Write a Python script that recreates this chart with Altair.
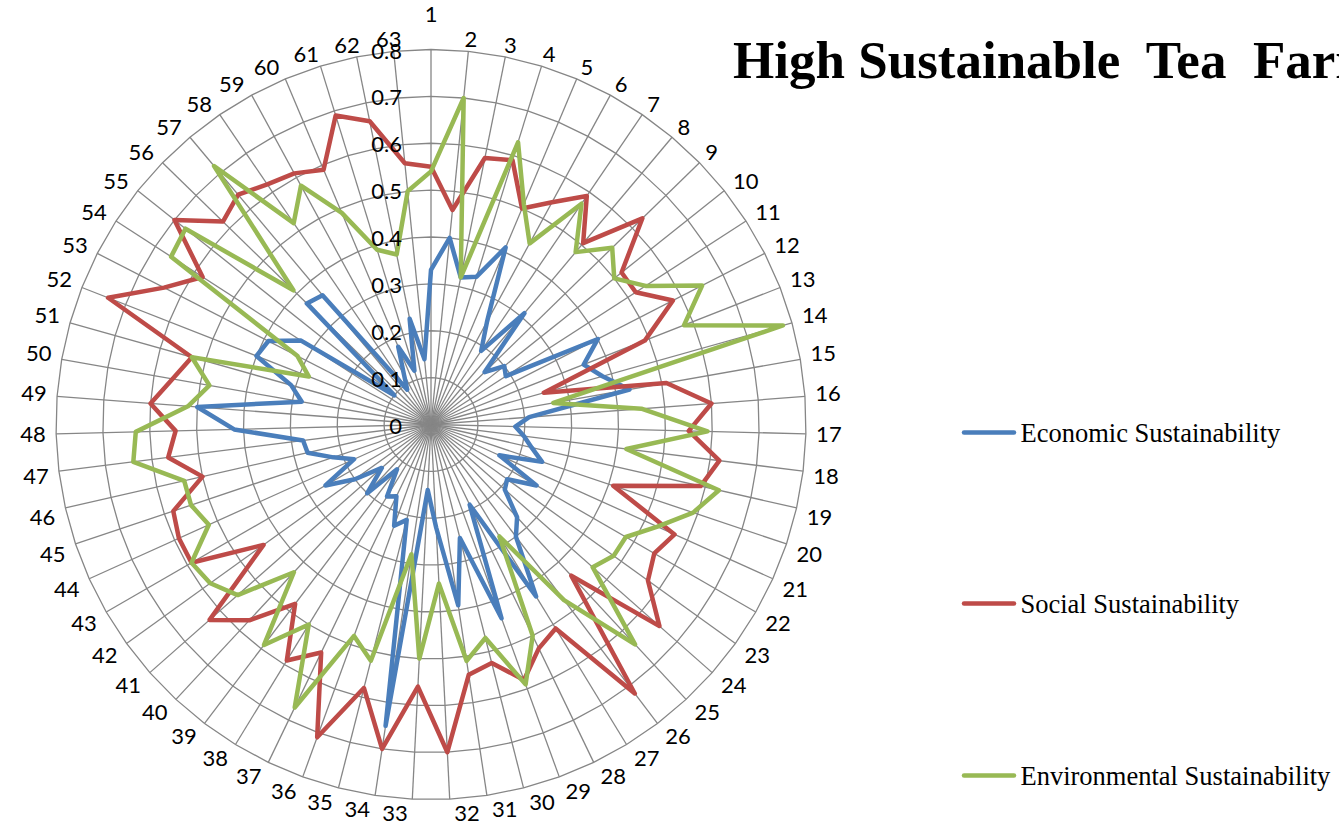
import altair as alt
import pandas as pd

# ---------------- data ----------------
spoke_labels = [str(i) for i in range(1, 64)]

economic = [0.33, 0.40, 0.32, 0.33, 0.41, 0.25, 0.19, 0.31, 0.16, 0.20,
            0.19, 0.40, 0.35, 0.38, 0.43, 0.21, 0.18, 0.20, 0.22, 0.25,
            0.16, 0.26, 0.20, 0.21, 0.27, 0.30, 0.43, 0.19, 0.44, 0.25,
            0.39, 0.22, 0.14, 0.65, 0.21, 0.23, 0.17, 0.18, 0.12, 0.20,
            0.14, 0.20, 0.26, 0.18, 0.22, 0.27, 0.275, 0.42, 0.50, 0.28,
            0.31, 0.40, 0.39, 0.33, 0.10, 0.37, 0.36, 0.09, 0.12, 0.18,
            0.12, 0.23, 0.14]

social = [0.55, 0.46, 0.58, 0.59, 0.50, 0.54, 0.59, 0.505, 0.63, 0.52,
          0.52, 0.58, 0.49, 0.25, 0.51, 0.60, 0.55, 0.62, 0.59, 0.41,
          0.57, 0.55, 0.57, 0.65, 0.44, 0.72, 0.51, 0.53, 0.58, 0.525,
          0.54, 0.70, 0.56, 0.70, 0.58, 0.71, 0.54, 0.59, 0.48, 0.57,
          0.63, 0.44, 0.59, 0.59, 0.58, 0.50, 0.565, 0.545, 0.60, 0.56,
          0.53, 0.74, 0.64, 0.58, 0.70, 0.62, 0.64, 0.62, 0.61, 0.59,
          0.69, 0.66, 0.56]

environmental = [0.54, 0.70, 0.32, 0.63, 0.51, 0.44, 0.57, 0.48, 0.54, 0.50,
                 0.545, 0.65, 0.58, 0.78, 0.265, 0.45, 0.59, 0.42, 0.63, 0.59,
                 0.53, 0.48, 0.48, 0.46, 0.64, 0.47, 0.28, 0.50, 0.59, 0.47,
                 0.51, 0.34, 0.50, 0.28, 0.52, 0.48, 0.67, 0.50, 0.59, 0.43,
                 0.55, 0.58, 0.59, 0.52, 0.54, 0.54, 0.64, 0.63, 0.52, 0.48,
                 0.53, 0.28, 0.32, 0.66, 0.67, 0.41, 0.72, 0.52, 0.58, 0.49,
                 0.39, 0.37, 0.50]

series_names = ["Economic Sustainability", "Social Sustainability",
                "Environmental Sustainability"]
series_values = [economic, social, environmental]
series_colors = ["#4A7EBB", "#BE4B48", "#98B954"]

ring_values = [0.1, 0.2, 0.3, 0.4, 0.5, 0.6, 0.7, 0.8]
ring_tick_values = [0, 0.1, 0.2, 0.3, 0.4, 0.5, 0.6, 0.7, 0.8]
ring_tick_labels = ["0", "0.1", "0.2", "0.3", "0.4", "0.5", "0.6", "0.7", "0.8"]

# double spaces kept visible with non-breaking spaces
title_text = "High Sustainable\u00a0 Tea\u00a0 Farms"

# ---------------- layout ----------------
N = len(spoke_labels)
R_PX = 375
SIZE = 2 * R_PX
CX, CY = 431, 424.5
PAD_L = CX - R_PX
PAD_T = CY - R_PX
PAGE_W, PAGE_H = 1339, 828
GRID = "#868686"
MAXV = 0.8
PXV = R_PX / MAXV  # pixels per unit value

xs = alt.Scale(domain=[-MAXV, MAXV], nice=False, zero=False)
ys = alt.Scale(domain=[-MAXV, MAXV], nice=False, zero=False)
ANG = f"(datum.idx - 1) * 2 * PI / {N}"

spoke_df = pd.DataFrame({"idx": list(range(1, N + 1)), "label": spoke_labels})

# spokes
spokes = alt.Chart(spoke_df).transform_calculate(
    ang=ANG, x0="0", y0="0",
    x1=f"{MAXV} * sin(datum.ang)", y1=f"{MAXV} * cos(datum.ang)"
).mark_rule(color=GRID, strokeWidth=1.3).encode(
    x=alt.X("x0:Q", scale=xs, axis=None),
    y=alt.Y("y0:Q", scale=ys, axis=None),
    x2="x1:Q", y2="y1:Q",
)

# rings
ring_df = pd.DataFrame([(r, i) for r in ring_values for i in range(1, N + 1)],
                       columns=["ring", "idx"])
rings = alt.Chart(ring_df).transform_calculate(
    ang=ANG, px="datum.ring * sin(datum.ang)", py="datum.ring * cos(datum.ang)"
).mark_line(interpolate="linear-closed", color=GRID, strokeWidth=1.3).encode(
    x=alt.X("px:Q", scale=xs, axis=None),
    y=alt.Y("py:Q", scale=ys, axis=None),
    detail="ring:N", order="idx:Q",
)

# series
series_layers = []
for name, vals, col in zip(series_names, series_values, series_colors):
    d = pd.DataFrame({"idx": list(range(1, N + 1)), "value": vals, "series": name})
    series_layers.append(
        alt.Chart(d).transform_calculate(
            ang=ANG, px="datum.value * sin(datum.ang)", py="datum.value * cos(datum.ang)"
        ).mark_line(interpolate="linear-closed", color=col, strokeWidth=4.5,
                    strokeJoin="round").encode(
            x=alt.X("px:Q", scale=xs, axis=None),
            y=alt.Y("py:Q", scale=ys, axis=None),
            order="idx:Q",
        )
    )

# spoke labels: box placed just outside the outer ring
spoke_text = alt.Chart(spoke_df).transform_calculate(
    ang=ANG,
    hw="9 * length(datum.label) - 1",
    sx="sin(datum.ang)", cy_="cos(datum.ang)",
    kf="datum.cy_ >= 0 ? 2.5 : 20",
    voff="(datum.cy_ >= 0 ? 5 : -9) * clamp(abs(datum.cy_) * 5, 0, 1)",
    offx=f"(381 * datum.sx + datum.hw * clamp(datum.sx * datum.kf, -1, 1)) / {PXV}",
    offy=f"(381 * datum.cy_ + datum.voff + (datum.idx == 1 ? 24 : 0)) / {PXV}",
).mark_text(font="Lato", fontSize=22, color="#000000", align="center",
            baseline="middle").encode(
    x=alt.X("offx:Q", scale=xs, axis=None),
    y=alt.Y("offy:Q", scale=ys, axis=None),
    text="label:N",
)

# ring value labels
ring_lab_df = pd.DataFrame({"v": ring_tick_values, "label": ring_tick_labels})
ring_text = alt.Chart(ring_lab_df).transform_calculate(px="0").mark_text(
    font="Lato", fontSize=22, color="#000000", align="right", baseline="middle",
    dx=-29, dy=2,
).encode(
    x=alt.X("px:Q", scale=xs, axis=None),
    y=alt.Y("v:Q", scale=ys, axis=None),
    text="label:N",
)

# title
title = alt.Chart(pd.DataFrame({"t": [title_text]})).mark_text(
    font="Liberation Serif", fontWeight="bold", fontSize=53, align="left",
    baseline="alphabetic", color="#000000",
).encode(text="t:N", x=alt.value(733 - PAD_L), y=alt.value(78 - PAD_T))

# legend
legend_layers = []
legend_y = [432.5, 603.5, 775.5]
for name, col, ly in zip(series_names, series_colors, legend_y):
    dd = pd.DataFrame({"t": [name]})
    legend_layers.append(
        alt.Chart(dd).mark_rule(color=col, strokeWidth=4.5, strokeCap="round").encode(
            x=alt.value(964 - PAD_L), x2=alt.value(1014 - PAD_L), y=alt.value(ly - PAD_T)
        )
    )
    legend_layers.append(
        alt.Chart(dd).mark_text(font="Liberation Serif", fontSize=26.5, align="left",
                                baseline="middle", color="#000000").encode(
            text="t:N", x=alt.value(1020.5 - PAD_L), y=alt.value(ly + 1 - PAD_T)
        )
    )

chart = alt.layer(
    rings, spokes, *series_layers, spoke_text, ring_text, title, *legend_layers
).properties(
    width=SIZE, height=SIZE,
    autosize=alt.AutoSizeParams(type="none"),
    padding={"left": PAD_L, "top": PAD_T,
             "right": PAGE_W - PAD_L - SIZE, "bottom": PAGE_H - PAD_T - SIZE},
    background="white",
).configure_view(stroke=None)

chart.save("out.html", embed_options={"renderer": "svg", "actions": False})
